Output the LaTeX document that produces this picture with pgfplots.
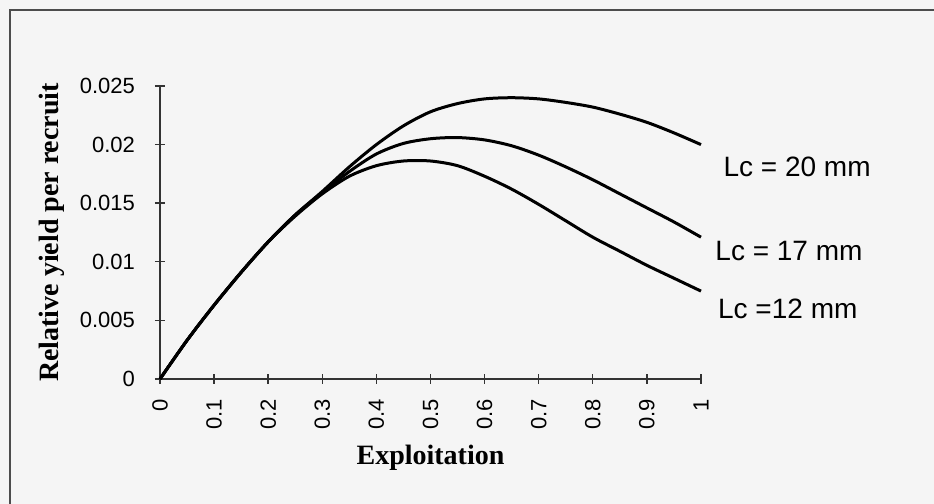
\documentclass[border=0pt]{standalone}
\usepackage{pgfplots}
\pgfplotsset{compat=1.18}
\usepackage{pgfplotstable}
\usepackage{fontspec}
\setmainfont{Liberation Serif}
\newfontfamily\arialf{Liberation Sans}

\pgfplotstableread{
x    l20    l17    l12
0    0      0      0
0.05 0.0033 0.0033 0.0033
0.10 0.0063 0.0063 0.0063
0.15 0.0091 0.0091 0.0091
0.20 0.0117 0.0117 0.0117
0.25 0.0140 0.0140 0.0139
0.30 0.0160 0.0159 0.0158
0.35 0.0181 0.0177 0.0173
0.40 0.0200 0.0192 0.0182
0.45 0.0216 0.0201 0.0186
0.50 0.0228 0.0205 0.0186
0.55 0.0235 0.0206 0.0182
0.60 0.0239 0.0204 0.0173
0.65 0.0240 0.0199 0.0162
0.70 0.0239 0.0191 0.0149
0.75 0.0236 0.0181 0.0135
0.80 0.0232 0.0170 0.0121
0.85 0.0226 0.0158 0.0109
0.90 0.0219 0.0146 0.0097
0.95 0.0210 0.0134 0.0086
1.00 0.0200 0.0121 0.0075
}\data

\begin{document}
\begin{tikzpicture}
\path[use as bounding box] (-80pt,-62.5pt) rectangle (387pt,189.5pt);
\fill[gray!8] (-80pt,-62.5pt) rectangle (387pt,189.5pt);
\draw[gray!60!black, line width=0.75pt] (-75pt,-62.5pt) -- (-75pt,184.5pt) -- (387pt,184.5pt);
\begin{axis}[
  at={(0,0)}, anchor=origin,
  scale only axis, width=270.5pt, height=146.5pt,
  xmin=0, xmax=1, ymin=0, ymax=0.025,
  axis lines=left,
  axis line style={-, line width=0.7pt, black!80},
  tick align=center, major tick length=5pt,
  tick style={line width=0.7pt, black!80},
  xtick={0,0.1,0.2,0.3,0.4,0.5,0.6,0.7,0.8,0.9,1},
  xticklabels={0,0.1,0.2,0.3,0.4,0.5,0.6,0.7,0.8,0.9,1},
  ytick={0,0.005,0.01,0.015,0.02,0.025},
  yticklabels={0,0.005,0.01,0.015,0.02,0.025},
  scaled y ticks=false, scaled x ticks=false,
  xticklabel style={rotate=90, anchor=east, font=\arialf\fontsize{11}{13}\selectfont},
  yticklabel style={font=\arialf\fontsize{11}{13}\selectfont},
  xticklabel shift=4pt, yticklabel shift=6.5pt,
  xlabel={Exploitation}, ylabel={Relative yield per recruit},
  every axis x label/.style={at={(axis description cs:0.5,-0.27)}, anchor=center, font=\bfseries\fontsize{14}{16}\selectfont},
  every axis y label/.style={at={(axis description cs:-0.2,0.5)}, rotate=90, anchor=center, font=\bfseries\fontsize{14}{16}\selectfont},
  clip=false,
]
\addplot[black, line width=1.5pt, smooth] table[x=x, y=l20] {\data};
\addplot[black, line width=1.5pt, smooth] table[x=x, y=l17] {\data};
\addplot[black, line width=1.5pt, smooth] table[x=x, y=l12] {\data};
\node[anchor=west, inner sep=0, font=\arialf\fontsize{14}{16}\selectfont] at (axis cs:1.041,0.0181) {Lc = 20 mm};
\node[anchor=west, inner sep=0, font=\arialf\fontsize{14}{16}\selectfont] at (axis cs:1.026,0.0109) {Lc = 17 mm};
\node[anchor=west, inner sep=0, font=\arialf\fontsize{14}{16}\selectfont] at (axis cs:1.031,0.0060) {Lc =12 mm};
\end{axis}
\end{tikzpicture}
\end{document}
